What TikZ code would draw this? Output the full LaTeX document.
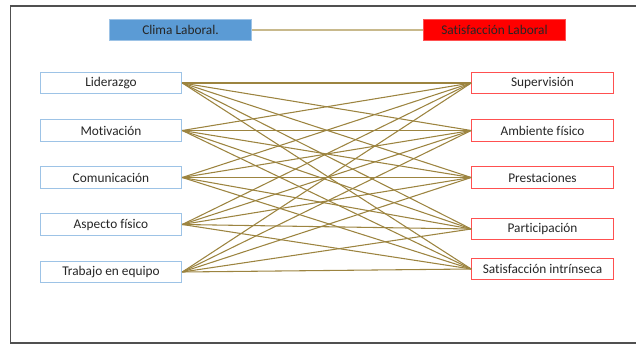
\documentclass[tikz,border=0pt]{standalone}
\usepackage{fontspec}
\setmainfont[Ligatures=NoCommon]{Carlito}
\definecolor{clblue}{HTML}{5B9BD5}
\definecolor{clblueedge}{HTML}{9DC3E6}
\definecolor{slred}{HTML}{FF0000}
\definecolor{slredge}{HTML}{FF5050}
\definecolor{linkcol}{HTML}{9C8440}
\definecolor{toplink}{HTML}{C8B98C}
\definecolor{framecol}{HTML}{505050}
\begin{document}
\begin{tikzpicture}[x=0.75pt,y=-0.75pt,
  lbox/.style={draw=clblueedge,line width=0.9pt,fill=white,minimum width=106pt,minimum height=16pt,inner sep=0pt,font=\fontsize{10}{12}\selectfont,text=black!85},
  rbox/.style={draw=slredge,line width=0.9pt,fill=white,minimum width=106pt,minimum height=16pt,inner sep=0pt,font=\fontsize{10}{12}\selectfont,text=black!85},
  headbl/.style={draw=clblueedge,line width=0.6pt,fill=clblue,minimum width=106pt,minimum height=16pt,inner sep=0pt,font=\fontsize{10}{12}\selectfont,text=black!85},
  headrd/.style={draw=slredge,line width=0.6pt,fill=slred,minimum width=106pt,minimum height=16pt,inner sep=0pt,font=\fontsize{10}{12}\selectfont,text=black!85},
  link/.style={draw=linkcol,line width=0.8pt}]
\useasboundingbox (0,0) rectangle (636,345);
\draw[framecol,line width=1.1pt] (660,6) -- (10.5,6) -- (10.5,343) -- (660,343);
% header
\node[headbl] (cl) at (180.5,30) {Clima Laboral.};
\node[headrd] (sl) at (494.5,30) {Satisfacción Laboral};
\draw[toplink,line width=1.2pt] (cl.east) -- (sl.west);
% left
\node[lbox] (l1) at (111,83) {Liderazgo};
\node[lbox] (l2) at (111,130.5) {Motivación};
\node[lbox] (l3) at (111,177.5) {Comunicación};
\node[lbox] (l4) at (111,224.5) {Aspecto físico};
\node[lbox] (l5) at (111,272) {Trabajo en equipo};
% right
\node[rbox] (r1) at (542.5,83) {Supervisión};
\node[rbox] (r2) at (542.5,130.5) {Ambiente físico};
\node[rbox] (r3) at (542.5,177.5) {Prestaciones};
\node[rbox] (r4) at (542.5,229) {Participación};
\node[rbox] (r5) at (542.5,269) {Satisfacción intrínseca};
\foreach \i in {1,...,5}{
  \foreach \j in {1,...,5}{
    \draw[link] (l\i.east) -- (r\j.west);
  }
}
\end{tikzpicture}
\end{document}
